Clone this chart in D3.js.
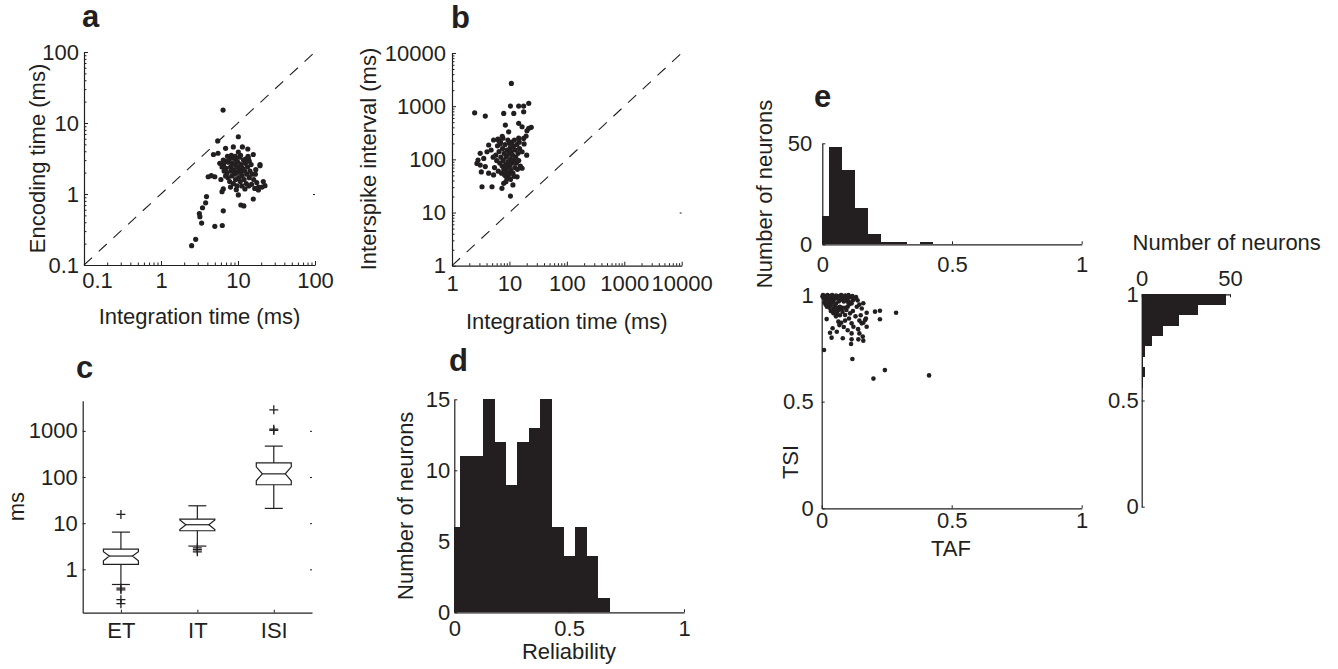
<!DOCTYPE html>
<html>
<head>
<meta charset="utf-8">
<script src="https://cdn.jsdelivr.net/npm/d3@7"></script>
<style>
  body { margin: 0; background: #fff; }
  text { font-family: "Liberation Sans", Arial, Helvetica, sans-serif; fill: #231f20; }
  rect.bar { shape-rendering: crispEdges; }
</style>
</head>
<body>
<script>
// ---- data ----
// a: integration time vs encoding time (ms)
var scatterA = [
  [6.4,15.2],[10.1,6.4],[5.45,5.6],[6.9,4.4],[8.7,4.6],[11.4,4.6],[13.4,4.3],[10.1,3.9],[15.8,3.6],[4.8,3.6],
  [5.5,3.75],[19.3,2.6],[19.3,2.5],[22.4,1.31],[21.3,1.5],[18.4,1.14],[15.8,0.85],[12.3,1.18],[15,1.37],[10.1,0.97],
  [10.9,0.70],[11.9,0.68],[6.44,0.58],[5.0,0.35],[6.25,0.36],[3.9,0.92],[3.8,0.75],[3.46,0.64],[3.15,0.53],[3.2,0.48],
  [3.37,0.39],[2.82,0.23],[2.5,0.187],[4.5,1.81],[4.1,1.75],[5.0,1.75],[6.2,1.08],[6.44,1.18],[5.8,2.7],[6.44,3.0],
  [16.5,1.2],[20.5,1.25],[17,2.2],[14,2.9],[12.5,3.1],[13.5,3.4],
  [6.5,2.6],[6.8,2.9],[7.0,2.3],[7.2,2.0],[7.4,1.7],[7.5,2.8],[7.7,3.1],[7.8,1.5],[8.0,2.4],[8.1,2.1],
  [8.3,1.8],[8.4,2.7],[8.6,3.2],[8.7,1.4],[8.9,2.2],[9.0,1.9],[9.1,2.6],[9.3,1.6],[9.4,3.0],[9.6,2.0],
  [9.7,1.3],[9.9,2.4],[10.0,2.8],[10.2,1.7],[10.4,2.2],[10.5,3.3],[10.7,1.5],[10.9,2.0],[11.0,2.6],[11.3,1.8],
  [11.5,2.3],[11.8,3.0],[12.0,1.6],[12.2,2.1],[12.5,2.7],[12.8,1.4],[13.0,1.9],[13.3,2.4],[13.6,3.2],[14.0,1.7],
  [14.3,2.1],[14.8,2.6],[15.2,1.9],[6.6,2.1],[6.9,1.8],[7.3,3.4],[8.2,3.5],[9.2,3.4],[10.8,3.5],[6.2,2.4],
  [6.0,1.6],[11.2,1.3],[9.5,1.15],[8.0,1.25],[13.8,1.3],[16,1.6],[17.5,1.45],[18.5,1.25],[16.8,1.9]
];
// b: integration time vs interspike interval (ms)
var scatterB = [
  [10.8,2680],[2.48,751],[3.8,651],[7.95,732],[10.4,1004],[14.5,1004],[17.7,1004],[21.7,1130],[17.7,785],[11.9,732],
  [8.5,441],[14.5,475],[16.6,410],[21.7,383],[20.2,345],[24,400],[9.7,330],[17.7,248],[5.3,231],[6.5,226],
  [4.35,186],[4.07,139],[3.1,130],[3.57,104],[2.84,97],[2.72,84],[3.1,78],[3.8,73],[3.24,58],[4.35,55],
  [5.3,51],[3.33,30.5],[4.97,30.5],[7.95,35.4],[7.4,28.5],[10.4,20.4],[13.6,47],[16.6,68],[16.6,139],[20,120],
  [18,195],[19.5,275],[11.5,33],[14.5,250],[7.5,270],
  [5.5,70],[5.8,120],[6.0,95],[6.2,180],[6.4,60],[6.6,140],[6.8,85],[7.0,210],[7.1,110],[7.3,55],
  [7.5,75],[7.6,160],[7.8,95],[8.0,65],[8.1,130],[8.3,50],[8.4,190],[8.6,80],[8.8,110],[8.9,58],
  [9.1,150],[9.2,70],[9.4,230],[9.5,90],[9.7,125],[9.8,52],[10.0,200],[10.1,75],[10.3,165],[10.5,100],
  [10.6,62],[10.8,140],[11.0,210],[11.1,85],[11.3,120],[11.5,55],[11.7,175],[11.9,95],[12.2,230],[12.4,70],
  [12.6,150],[12.9,110],[13.2,85],[13.5,190],[13.8,65],[14.1,130],[14.5,95],[15.0,160],[15.5,75],[6.3,240],
  [7.7,250],[9.0,45],[10.4,42],[12.0,48],[8.7,38],[5.2,110],[4.8,150],[6.9,195],[14.8,210]
];
// c: box plots (ms)
var boxNames = ["ET", "IT", "ISI"];
var boxQ1 = [1.28, 6.85, 68];
var boxMedian = [1.94, 9.25, 117];
var boxQ3 = [2.75, 12.3, 203];
var boxNotchLo = [1.53, 7.3, 83];
var boxNotchHi = [2.4, 11.7, 166];
var boxWhiskerLo = [0.47, 3.19, 20.9];
var boxWhiskerHi = [6.4, 23.8, 467];
var boxOutliers = [[15.5, 0.39, 0.36, 0.22, 0.18], [2.93, 2.66, 2.4], [2850, 1090, 1020]];
// d: reliability histogram
var relCenters = [0, 0.05, 0.1, 0.15, 0.2, 0.25, 0.3, 0.35, 0.4, 0.45, 0.5, 0.55, 0.6, 0.65, 0.7, 0.75, 0.8, 0.85, 0.9, 0.95, 1];
var relCounts  = [6, 11, 11, 15, 12, 9, 12, 13, 15, 6, 4, 6, 4, 1, 0, 0, 0, 0, 0, 0, 0];
// e: TAF histogram (top)
var tafCenters = [0, 0.05, 0.1, 0.15, 0.2, 0.25, 0.3, 0.35, 0.4, 0.45, 0.5, 0.55, 0.6, 0.65, 0.7, 0.75, 0.8, 0.85, 0.9, 0.95, 1];
var tafCounts  = [14, 48, 37, 18, 5, 1, 1, 0, 1, 0, 0, 0, 0, 0, 0, 0, 0, 0, 0, 0, 0];
// e: TSI histogram (right), bin edges from top down
var tsiEdges  = [1.0, 0.951, 0.903, 0.854, 0.806, 0.757, 0.709, 0.66, 0.612, 0.563];
var tsiCounts = [48, 32, 21, 12, 6, 2, 1, 2, 1];
// e: TAF vs TSI scatter
var scatterE = [
  [0.005,1.0],[0.012,0.995],[0.018,0.99],[0.022,1.0],[0.03,0.995],[0.035,0.985],[0.04,1.0],[0.048,0.99],[0.055,0.998],[0.06,0.985],
  [0.068,0.995],[0.075,1.0],[0.082,0.99],[0.09,0.997],[0.097,0.985],[0.103,1.0],[0.11,0.99],[0.118,0.995],[0.125,0.985],[0.132,0.99],
  [0.008,0.985],[0.015,0.975],[0.025,0.98],[0.045,0.975],[0.07,0.975],[0.1,0.975],[0.12,0.975],[0.138,0.975],[0.003,0.993],[0.028,0.99],
  [0.052,0.985],[0.078,0.985],[0.092,0.978],
  [0.01,0.965],[0.015,0.955],[0.02,0.945],[0.025,0.96],[0.03,0.94],[0.035,0.952],[0.04,0.965],[0.045,0.935],[0.05,0.948],[0.055,0.96],
  [0.06,0.94],[0.065,0.93],[0.07,0.945],[0.075,0.935],[0.08,0.94],[0.09,0.94],[0.1,0.945],[0.105,0.955],[0.11,0.965],[0.115,0.96],
  [0.065,0.97],[0.085,0.97],[0.1,0.968],[0.03,0.972],[0.05,0.925],[0.045,0.915],[0.06,0.92],[0.08,0.92],[0.07,0.905],[0.055,0.9],
  [0.035,0.925],
  [0.135,0.945],[0.16,0.961],[0.154,0.937],[0.173,0.917],[0.205,0.922],[0.224,0.926],[0.286,0.917],[0.224,0.886],[0.019,0.887],[0.032,0.823],
  [0.042,0.844],[0.038,0.80],[0.058,0.828],[0.064,0.875],[0.068,0.859],[0.081,0.797],[0.055,0.906],[0.09,0.906],[0.109,0.914],[0.115,0.867],
  [0.122,0.851],[0.115,0.82],[0.115,0.792],[0.113,0.77],[0.118,0.70],[0.145,0.88],[0.154,0.867],[0.145,0.82],[0.141,0.792],[0.16,0.786],
  [0.158,0.805],[0.173,0.851],[0.167,0.883],[0.009,0.742],[0.243,0.648],[0.199,0.608],[0.413,0.623],[0.14,0.84],[0.16,0.87],[0.17,0.89],
  [0.13,0.9],[0.12,0.925],[0.095,0.93],[0.145,0.955],[0.15,0.905],[0.105,0.89],[0.09,0.88],[0.075,0.87],[0.1,0.835],[0.085,0.85]
];

var ink = "#231f20";
var FONT = '"Liberation Sans", Arial, Helvetica, sans-serif';

var svg = d3.select("body").append("svg")
  .attr("width", 1338)
  .attr("height", 669);

// make d3 axes look like the matlab ones
function styleAxis(g) {
  g.attr("font-size", null).attr("font-family", null);
  g.select(".domain").attr("stroke", ink).attr("stroke-width", 1.2);
  g.selectAll(".tick line").attr("stroke", ink).attr("stroke-width", 1);
  g.selectAll(".tick text").attr("fill", ink)
    .style("font-size", "22px").style("font-family", FONT);
}
function bareAxis(g) {
  g.select(".domain").remove();
  g.selectAll(".tick line").attr("stroke", ink).attr("stroke-width", 1);
}
function minorLog(domain) {
  var out = [];
  var lo = Math.round(Math.log10(domain[0])), hi = Math.round(Math.log10(domain[1]));
  for (var e = lo; e < hi; e++)
    for (var k = 2; k < 10; k++) out.push(k * Math.pow(10, e));
  return out;
}
function panelLetter(x, y, t) {
  svg.append("text").attr("x", x).attr("y", y)
    .style("font-size", "31px").style("font-weight", "bold").text(t);
}
function xLabel(x, y, t) {
  svg.append("text").attr("x", x).attr("y", y).attr("text-anchor", "middle")
    .style("font-size", "22px").text(t);
}
function yLabel(x, y, t) {
  svg.append("text").attr("transform", "translate(" + x + "," + y + ") rotate(-90)")
    .attr("text-anchor", "middle").style("font-size", "22px").text(t);
}

// ---------- panel a ----------
var xA = d3.scaleLog().domain([0.1, 100]).range([84, 315]);
var yA = d3.scaleLog().domain([0.1, 100]).range([265, 52]);

svg.append("line")
  .attr("x1", xA(0.1)).attr("y1", yA(0.1))
  .attr("x2", xA(100)).attr("y2", yA(100))
  .attr("stroke", ink).attr("stroke-width", 1.1)
  .attr("stroke-dasharray", "11,9");

svg.append("g").selectAll("circle")
  .data(scatterA).enter().append("circle")
  .attr("cx", d => xA(d[0])).attr("cy", d => yA(d[1]))
  .attr("r", 2.6).attr("fill", ink);

svg.append("g").attr("transform", "translate(0,265)")
  .call(d3.axisBottom(xA).tickValues(minorLog(xA.domain())).tickFormat("").tickSizeInner(-2.5).tickSizeOuter(0))
  .call(bareAxis);
svg.append("g").attr("transform", "translate(84,0)")
  .call(d3.axisLeft(yA).tickValues(minorLog(yA.domain())).tickFormat("").tickSizeInner(-2.5).tickSizeOuter(0))
  .call(bareAxis);
var axA = svg.append("g").attr("transform", "translate(0,265)")
  .call(d3.axisBottom(xA).tickValues([0.1, 1, 10, 100]).tickFormat(d => d).tickSizeInner(-4).tickSizeOuter(0).tickPadding(7))
  .call(styleAxis);
// matlab nudges the first x label clear of the y label
axA.selectAll(".tick text").filter(d => d === 0.1).attr("dx", 13);
svg.append("g").attr("transform", "translate(84,0)")
  .call(d3.axisLeft(yA).tickValues([0.1, 1, 10, 100]).tickFormat(d => d).tickSizeInner(-4).tickSizeOuter(0).tickPadding(5))
  .call(styleAxis);
svg.append("g").attr("transform", "translate(315,0)")
  .call(d3.axisRight(yA).tickValues([1]).tickFormat("").tickSizeInner(-2).tickSizeOuter(0))
  .call(bareAxis);

panelLetter(82, 27, "a");
xLabel(199.5, 324, "Integration time (ms)");
yLabel(45, 158.5, "Encoding time (ms)");

// ---------- panel b ----------
var xB = d3.scaleLog().domain([1, 10000]).range([452, 681.7]);
var yB = d3.scaleLog().domain([1, 10000]).range([265.7, 53]);

svg.append("line")
  .attr("x1", xB(1)).attr("y1", yB(1))
  .attr("x2", xB(10000)).attr("y2", yB(10000))
  .attr("stroke", ink).attr("stroke-width", 1.1)
  .attr("stroke-dasharray", "11,9");

svg.append("g").selectAll("circle")
  .data(scatterB).enter().append("circle")
  .attr("cx", d => xB(d[0])).attr("cy", d => yB(d[1]))
  .attr("r", 2.6).attr("fill", ink);

svg.append("g").attr("transform", "translate(0,265.7)")
  .call(d3.axisBottom(xB).tickValues(minorLog(xB.domain())).tickFormat("").tickSizeInner(-2.5).tickSizeOuter(0))
  .call(bareAxis);
svg.append("g").attr("transform", "translate(452,0)")
  .call(d3.axisLeft(yB).tickValues(minorLog(yB.domain())).tickFormat("").tickSizeInner(-2.5).tickSizeOuter(0))
  .call(bareAxis);
svg.append("g").attr("transform", "translate(0,265.7)")
  .call(d3.axisBottom(xB).tickValues([1, 10, 100, 1000, 10000]).tickFormat(d => d).tickSizeInner(-4).tickSizeOuter(0).tickPadding(10))
  .call(styleAxis);
svg.append("g").attr("transform", "translate(452,0)")
  .call(d3.axisLeft(yB).tickValues([1, 10, 100, 1000, 10000]).tickFormat(d => d).tickSizeInner(-4).tickSizeOuter(0).tickPadding(6))
  .call(styleAxis);
svg.append("g").attr("transform", "translate(681.7,0)")
  .call(d3.axisRight(yB).tickValues([10]).tickFormat("").tickSizeInner(-2).tickSizeOuter(0))
  .call(bareAxis);

panelLetter(451, 28, "b");
xLabel(566.8, 329, "Integration time (ms)");
yLabel(376, 159, "Interspike interval (ms)");

// ---------- panel c ----------
var xC = d3.scaleLinear().domain([0.5, 3.5]).range([82.7, 312]);
var yC = d3.scaleLog().domain([0.115, 4500]).range([612.7, 400.7]);
var boxHalf = 17.5, notchIn = 6, capHalf = 9;

var gC = svg.append("g");
boxNames.forEach(function (name, i) {
  var cx = xC(i + 1), l = cx - boxHalf, r = cx + boxHalf;
  var path = d3.path();
  path.moveTo(l, yC(boxQ3[i]));
  path.lineTo(r, yC(boxQ3[i]));
  path.lineTo(r, yC(boxNotchHi[i]));
  path.lineTo(r - notchIn, yC(boxMedian[i]));
  path.lineTo(r, yC(boxNotchLo[i]));
  path.lineTo(r, yC(boxQ1[i]));
  path.lineTo(l, yC(boxQ1[i]));
  path.lineTo(l, yC(boxNotchLo[i]));
  path.lineTo(l + notchIn, yC(boxMedian[i]));
  path.lineTo(l, yC(boxNotchHi[i]));
  path.closePath();
  gC.append("path").attr("d", path.toString())
    .attr("fill", "none").attr("stroke", ink).attr("stroke-width", 1.2);
  gC.append("line").attr("x1", l + notchIn).attr("x2", r - notchIn)
    .attr("y1", yC(boxMedian[i])).attr("y2", yC(boxMedian[i]))
    .attr("stroke", ink).attr("stroke-width", 1.2);
  // whiskers
  [[boxQ3[i], boxWhiskerHi[i]], [boxQ1[i], boxWhiskerLo[i]]].forEach(function (w) {
    gC.append("line").attr("x1", cx).attr("x2", cx)
      .attr("y1", yC(w[0])).attr("y2", yC(w[1]))
      .attr("stroke", ink).attr("stroke-width", 1.2);
    gC.append("line").attr("x1", cx - capHalf).attr("x2", cx + capHalf)
      .attr("y1", yC(w[1])).attr("y2", yC(w[1]))
      .attr("stroke", ink).attr("stroke-width", 1.2);
  });
  // outliers as +
  gC.selectAll(null).data(boxOutliers[i]).enter().append("path")
    .attr("transform", d => "translate(" + cx + "," + yC(d) + ")")
    .attr("d", "M-4.5,0H4.5M0,-4.5V4.5")
    .attr("stroke", ink).attr("stroke-width", 1.3);
});

svg.append("g").attr("transform", "translate(0,612.7)")
  .call(d3.axisBottom(xC).tickValues([1, 2, 3]).tickFormat(d => boxNames[d - 1]).tickSizeInner(-3).tickSizeOuter(0).tickPadding(10))
  .call(styleAxis);
svg.append("g").attr("transform", "translate(82.7,0)")
  .call(d3.axisLeft(yC).tickValues([1, 10, 100, 1000]).tickFormat(d => d).tickSizeInner(-3).tickSizeOuter(0).tickPadding(5))
  .call(styleAxis);
svg.append("g").attr("transform", "translate(312,0)")
  .call(d3.axisRight(yC).tickValues([1, 10, 100, 1000]).tickFormat("").tickSizeInner(-2).tickSizeOuter(0))
  .call(bareAxis);

panelLetter(76, 378, "c");
yLabel(24, 506.7, "ms");

// ---------- panel d ----------
var xD = d3.scaleLinear().domain([0, 1]).range([454.3, 684]);
var yD = d3.scaleLinear().domain([0, 15]).range([612.3, 399.3]);
var relHalf = 0.025;

svg.append("g").selectAll("rect")
  .data(relCenters.map((c, i) => ({ c: c, n: relCounts[i] })).filter(d => d.n > 0))
  .enter().append("rect")
  .attr("class", "bar")
  .attr("x", d => xD(Math.max(0, d.c - relHalf)))
  .attr("width", d => xD(Math.min(1, d.c + relHalf)) - xD(Math.max(0, d.c - relHalf)) + 0.5)
  .attr("y", d => yD(d.n))
  .attr("height", d => yD(0) - yD(d.n))
  .attr("fill", ink);

svg.append("g").attr("transform", "translate(0,612.3)")
  .call(d3.axisBottom(xD).tickValues([0, 0.5, 1]).tickFormat(d => d).tickSizeInner(-3).tickSizeOuter(0).tickPadding(8))
  .call(styleAxis);
svg.append("g").attr("transform", "translate(454.3,0)")
  .call(d3.axisLeft(yD).tickValues([0, 5, 10, 15]).tickFormat(d => d).tickSizeInner(-3).tickSizeOuter(0).tickPadding(4))
  .call(styleAxis);

panelLetter(449, 371, "d");
xLabel(569, 659, "Reliability");
yLabel(413, 505.8, "Number of neurons");

// ---------- panel e: TAF histogram ----------
var xEh = d3.scaleLinear().domain([0, 1]).range([822.3, 1081.7]);
var yEh = d3.scaleLinear().domain([0, 50]).range([244.3, 143.3]);
var tafHalf = 0.025;

svg.append("g").selectAll("rect")
  .data(tafCenters.map((c, i) => ({ c: c, n: tafCounts[i] })).filter(d => d.n > 0))
  .enter().append("rect")
  .attr("class", "bar")
  .attr("x", d => xEh(Math.max(0, d.c - tafHalf)))
  .attr("width", d => xEh(Math.min(1, d.c + tafHalf)) - xEh(Math.max(0, d.c - tafHalf)) + 0.5)
  .attr("y", d => yEh(d.n))
  .attr("height", d => yEh(0) - yEh(d.n))
  .attr("fill", ink);

svg.append("g").attr("transform", "translate(0,244.3)")
  .call(d3.axisBottom(xEh).tickValues([0, 0.5, 1]).tickFormat(d => d).tickSizeInner(-3).tickSizeOuter(0).tickPadding(12))
  .call(styleAxis);
svg.append("g").attr("transform", "translate(822.3,0)")
  .call(d3.axisLeft(yEh).tickValues([0, 50]).tickFormat(d => d).tickSizeInner(-3).tickSizeOuter(0).tickPadding(10))
  .call(styleAxis);

panelLetter(814, 107, "e");
yLabel(772, 194, "Number of neurons");

// ---------- panel e: TAF vs TSI scatter ----------
var xEs = d3.scaleLinear().domain([0, 1]).range([821.7, 1081.7]);
var yEs = d3.scaleLinear().domain([0, 1]).range([508.3, 295]);

svg.append("g").selectAll("circle")
  .data(scatterE).enter().append("circle")
  .attr("cx", d => xEs(d[0])).attr("cy", d => yEs(d[1]))
  .attr("r", 2.3).attr("fill", ink);

svg.append("g").attr("transform", "translate(0,508.3)")
  .call(d3.axisBottom(xEs).tickValues([0, 0.5, 1]).tickFormat(d => d).tickSizeInner(-3).tickSizeOuter(0).tickPadding(4))
  .call(styleAxis);
svg.append("g").attr("transform", "translate(821.7,0)")
  .call(d3.axisLeft(yEs).tickValues([0, 0.5, 1]).tickFormat(d => d).tickSizeInner(-3).tickSizeOuter(0).tickPadding(8))
  .call(styleAxis);

xLabel(951, 556, "TAF");
yLabel(798, 462, "TSI");

// ---------- panel e: TSI histogram (horizontal) ----------
var xR = d3.scaleLinear().domain([0, 50]).range([1141.7, 1230]);
var yR = d3.scaleLinear().domain([0, 1]).range([506.7, 294.3]);

svg.append("g").selectAll("rect")
  .data(tsiCounts.map((n, i) => ({ hi: tsiEdges[i], lo: tsiEdges[i + 1], n: n })))
  .enter().append("rect")
  .attr("class", "bar")
  .attr("x", xR(0))
  .attr("y", d => yR(d.hi))
  .attr("width", d => xR(d.n) - xR(0))
  .attr("height", d => yR(d.lo) - yR(d.hi) + 0.5)
  .attr("fill", ink);

svg.append("g").attr("transform", "translate(0,294.3)")
  .call(d3.axisTop(xR).tickValues([0, 50]).tickFormat(d => d).tickSizeInner(-3).tickSizeOuter(0).tickPadding(8))
  .call(styleAxis);
svg.append("g").attr("transform", "translate(1141.7,0)")
  .call(d3.axisLeft(yR).tickValues([0, 0.5, 1]).tickFormat(d => d).tickSizeInner(-3).tickSizeOuter(0).tickPadding(3))
  .call(styleAxis);

xLabel(1226.7, 250, "Number of neurons");
</script>
</body>
</html>
